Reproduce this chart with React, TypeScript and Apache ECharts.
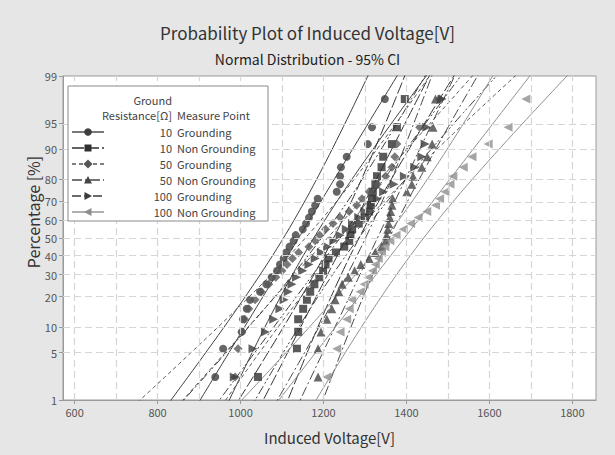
import React, { useEffect, useRef } from "react";
import * as echarts from "echarts";

// ---- axis tick/grid values ----
const X_LABELS = [600, 800, 1000, 1200, 1400, 1600, 1800];
const X_GRID = [600, 700, 800, 900, 1000, 1100, 1200, 1300, 1400, 1500, 1600, 1700, 1800];
const Y_TICKS = [1, 5, 10, 20, 30, 40, 50, 60, 70, 80, 90, 95, 99];
const Y_GRID = [5, 10, 20, 30, 40, 50, 60, 70, 80, 90, 95];

// ---- plotting positions (median ranks, n = 30), percent ----
const PCT = [2.3, 5.59, 8.88, 12.17, 15.46, 18.75, 22.04, 25.33, 28.62, 31.91, 35.2, 38.49, 41.78, 45.07, 48.36,
  51.64, 54.93, 58.22, 61.51, 64.8, 68.09, 71.38, 74.67, 77.96, 81.25, 84.54, 87.83, 91.12, 94.41, 97.7];

// ---- observed induced voltages (sorted) ----
const G10_GROUND = [939, 958, 1003, 1006, 1015, 1023, 1047, 1062, 1075, 1088, 1095, 1104, 1110, 1118, 1128,
  1133, 1150, 1158, 1165, 1172, 1180, 1186, 1232, 1240, 1240, 1242, 1256, 1307, 1317, 1348];
const G10_NON = [1042, 1136, 1139, 1139, 1151, 1160, 1168, 1178, 1190, 1199, 1205, 1212, 1230, 1250, 1262,
  1265, 1269, 1285, 1300, 1310, 1314, 1317, 1319, 1325, 1329, 1340, 1344, 1365, 1377, 1396];
const G50_GROUND = [987, 994, 1003, 1010, 1020, 1035, 1050, 1068, 1085, 1100, 1112, 1125, 1140, 1165, 1180,
  1191, 1205, 1223, 1240, 1262, 1280, 1293, 1310, 1330, 1350, 1365, 1372, 1377, 1432, 1480];
const G50_NON = [1187, 1187, 1194, 1208, 1220, 1228, 1237, 1245, 1260, 1275, 1290, 1310, 1325, 1340, 1350,
  1352, 1355, 1357, 1360, 1362, 1365, 1367, 1401, 1413, 1416, 1437, 1450, 1462, 1464, 1470];
const G100_GROUND = [985, 1030, 1060, 1080, 1095, 1105, 1115, 1124, 1135, 1150, 1165, 1180, 1195, 1210, 1225,
  1240, 1255, 1270, 1285, 1300, 1315, 1330, 1345, 1370, 1395, 1420, 1437, 1445, 1449, 1486];
const G100_NON = [1208, 1232, 1240, 1256, 1262, 1268, 1288, 1298, 1308, 1318, 1325, 1332, 1340, 1348, 1360,
  1375, 1392, 1410, 1428, 1449, 1470, 1480, 1493, 1505, 1512, 1537, 1558, 1597, 1645, 1688];

// ---- fitted normal parameters ----
const MU = [1140, 1255, 1210, 1330, 1240, 1395];
const SIGMA = [102, 86, 150, 80, 125, 130];
const N = 30;

const RESIST = ["10", "10", "50", "50", "100", "100"];
const POINT = ["Grounding", "Non Grounding", "Grounding", "Non Grounding", "Grounding", "Non Grounding"];
const DATA = [G10_GROUND, G10_NON, G50_GROUND, G50_NON, G100_GROUND, G100_NON];

// ---- styles ----
const COLORS = ["#3f3f3f", "#303030", "#575757", "#454545", "#3c3c3c", "#8e8e8e"];
const SYMBOLS = ["circle", "rect", "diamond", "triangle", "triangle", "triangle"];
const ROTATE = [0, 0, 0, 0, -90, 90];
const SIZES = [8, 8, 9, 9, 9, 9];
const DASH: any[] = ["solid", [12, 3], [4, 3], [10, 3, 2, 3], [9, 3, 2, 2, 2, 3], "solid"];
const FONT = "Noto Sans CJK KR";

function invNorm(p: number): number {
  const a = [-3.969683028665376e1, 2.209460984245205e2, -2.759285104469687e2, 1.38357751867269e2, -3.066479806614716e1, 2.506628277459239];
  const b = [-5.447609879822406e1, 1.615858368580409e2, -1.556989798598866e2, 6.680131188771972e1, -1.328068155288572e1];
  const c = [-7.784894002430293e-3, -3.223964580411365e-1, -2.400758277161838, -2.549732539343734, 4.374664141464968, 2.938163982698783];
  const d = [7.784695709041462e-3, 3.224671290700398e-1, 2.445134137142996, 3.754408661907416];
  const pl = 0.02425;
  if (p < pl) {
    const q = Math.sqrt(-2 * Math.log(p));
    return (((((c[0] * q + c[1]) * q + c[2]) * q + c[3]) * q + c[4]) * q + c[5]) / ((((d[0] * q + d[1]) * q + d[2]) * q + d[3]) * q + 1);
  }
  if (p <= 1 - pl) {
    const q = p - 0.5, r = q * q;
    return ((((((a[0] * r + a[1]) * r + a[2]) * r + a[3]) * r + a[4]) * r + a[5]) * q) / (((((b[0] * r + b[1]) * r + b[2]) * r + b[3]) * r + b[4]) * r + 1);
  }
  const q = Math.sqrt(-2 * Math.log(1 - p));
  return -(((((c[0] * q + c[1]) * q + c[2]) * q + c[3]) * q + c[4]) * q + c[5]) / ((((d[0] * q + d[1]) * q + d[2]) * q + d[3]) * q + 1);
}

const Z_MIN = invNorm(0.01);
const Z_MAX = invNorm(0.99);

function fitCurve(g: number, k: number) {
  // k = 0: fitted line, -1 / +1: 95% confidence bounds of the percentile
  const out: number[][] = [];
  for (let i = 0; i <= 100; i++) {
    const z = -2.5 + (5 * i) / 100;
    const se = SIGMA[g] * Math.sqrt(1 / N + (z * z) / (2 * N));
    out.push([MU[g] + z * SIGMA[g] + k * 1.96 * se, z]);
  }
  return out;
}

export default function App() {
  const ref = useRef<HTMLDivElement>(null);
  useEffect(() => {
    if (!ref.current) return;
    const chart = echarts.init(ref.current, null, { renderer: "svg" });
    const yTickZ = Y_TICKS.map((p) => invNorm(p / 100));
    const series: any[] = [];
    // grid lines
    series.push({
      type: "line",
      data: [],
      silent: true,
      z: 1,
      markLine: {
        silent: true,
        symbol: "none",
        animation: false,
        label: { show: false },
        lineStyle: { color: "#d6d6d6", width: 1.2, type: [7, 4] },
        data: [
          ...X_GRID.map((v) => ({ xAxis: v })),
          ...Y_GRID.map((p) => ({ yAxis: invNorm(p / 100) })),
        ],
      },
    });
    DATA.forEach((vals, g) => {
      [-1, 0, 1].forEach((k) => {
        series.push({
          type: "line",
          data: fitCurve(g, k),
          showSymbol: false,
          symbol: "none",
          silent: true,
          z: 2,
          lineStyle: { color: COLORS[g], width: 1, type: DASH[g] },
        });
      });
    });
    DATA.forEach((vals, g) => {
      series.push({
        type: "scatter",
        name: RESIST[g] + " " + POINT[g],
        data: vals.map((v, i) => [v, invNorm(PCT[i] / 100)]),
        symbol: SYMBOLS[g],
        symbolRotate: ROTATE[g],
        symbolSize: SIZES[g],
        itemStyle: { color: COLORS[g] },
        z: 3,
      });
    });

    // legend drawn with graphic elements
    const legend: any[] = [];
    const lx = 68, ly = 86;
    legend.push({ type: "rect", shape: { x: lx, y: ly, width: 200, height: 135 }, style: { fill: "#fff", stroke: "#8a8a8a", lineWidth: 1 }, z: 10 });
    const tstyle = (text: string, x: number, y: number, align: string) => ({
      type: "text", x, y, z: 11,
      style: { text, fill: "#444", font: `11px "${FONT}"`, textAlign: align, textVerticalAlign: "middle" },
    });
    legend.push(tstyle("Ground", 172, 100, "right"));
    legend.push(tstyle("Resistance[Ω]", 172, 115, "right"));
    legend.push(tstyle("Measure Point", 177, 115, "left"));
    const rowsY = [132, 148, 164, 180, 196, 212];
    rowsY.forEach((ry, g) => {
      legend.push({ type: "line", z: 11, shape: { x1: 72, y1: ry, x2: 104, y2: ry }, style: { stroke: COLORS[g], lineWidth: 1.4, lineDash: DASH[g] === "solid" ? null : DASH[g] } });
      const cx = 88;
      let m: any;
      const s = 4;
      if (g === 0) m = { type: "circle", shape: { cx, cy: ry, r: 3.8 } };
      else if (g === 1) m = { type: "rect", shape: { x: cx - 3.5, y: ry - 3.5, width: 7, height: 7 } };
      else if (g === 2) m = { type: "polygon", shape: { points: [[cx, ry - s - 0.5], [cx + s + 0.5, ry], [cx, ry + s + 0.5], [cx - s - 0.5, ry]] } };
      else if (g === 3) m = { type: "polygon", shape: { points: [[cx, ry - s], [cx + s, ry + s - 0.5], [cx - s, ry + s - 0.5]] } };
      else if (g === 4) m = { type: "polygon", shape: { points: [[cx - s + 0.5, ry - s], [cx + s, ry], [cx - s + 0.5, ry + s]] } };
      else m = { type: "polygon", shape: { points: [[cx + s - 0.5, ry - s], [cx - s, ry], [cx + s - 0.5, ry + s]] } };
      m.style = { fill: COLORS[g] };
      m.z = 12;
      legend.push(m);
      legend.push(tstyle(RESIST[g], 172, ry, "right"));
      legend.push(tstyle(POINT[g], 177, ry, "left"));
    });
    // y-axis title
    legend.push({
      type: "text", x: 33, y: 212, rotation: Math.PI / 2, z: 11,
      style: { text: "Percentage [%]", fill: "#333", font: `16px "${FONT}"`, textAlign: "center", textVerticalAlign: "middle" },
    });

    chart.setOption({
      animation: false,
      backgroundColor: "#e6e6e6",
      textStyle: { fontFamily: FONT },
      title: [
        { text: "Probability Plot of Induced Voltage[V]", left: "center", top: 19, textStyle: { fontSize: 17, fontWeight: "normal", color: "#333", fontFamily: FONT } },
        { text: "Normal Distribution - 95% CI", left: "center", top: 47, textStyle: { fontSize: 14, fontWeight: "normal", color: "#222", fontFamily: FONT } },
      ],
      grid: { left: 63, right: 19, top: 76, bottom: 55, show: true, backgroundColor: "#fff", borderColor: "#9a9a9a", borderWidth: 1 },
      xAxis: {
        type: "value",
        min: 572,
        max: 1857,
        name: "Induced Voltage[V]",
        nameLocation: "middle",
        nameGap: 30,
        nameTextStyle: { fontSize: 15, color: "#333", fontFamily: FONT },
        axisLine: { show: true, onZero: false, lineStyle: { color: "#9a9a9a" } },
        axisTick: { show: true, customValues: X_LABELS, length: 4, lineStyle: { color: "#9a9a9a" } },
        axisLabel: { customValues: X_LABELS, fontSize: 11, color: "#555", margin: 6, fontFamily: FONT, formatter: (v: number) => String(v) },
        splitLine: { show: false },
      },
      yAxis: {
        type: "value",
        min: Z_MIN,
        max: Z_MAX,
        axisLine: { show: true, onZero: false, lineStyle: { color: "#9a9a9a" } },
        axisTick: { show: true, customValues: yTickZ, length: 4, lineStyle: { color: "#9a9a9a" } },
        axisLabel: {
          customValues: yTickZ,
          fontSize: 11,
          color: "#555",
          margin: 6,
          fontFamily: FONT,
          formatter: (v: number) => {
            const i = yTickZ.findIndex((z) => Math.abs(z - v) < 1e-6);
            return i >= 0 ? String(Y_TICKS[i]) : "";
          },
        },
        splitLine: { show: false },
      },
      series,
      graphic: legend,
    });
    return () => chart.dispose();
  }, []);
  return <div ref={ref} style={{ position: "fixed", left: 0, top: 0, width: 615, height: 455 }} />;
}
